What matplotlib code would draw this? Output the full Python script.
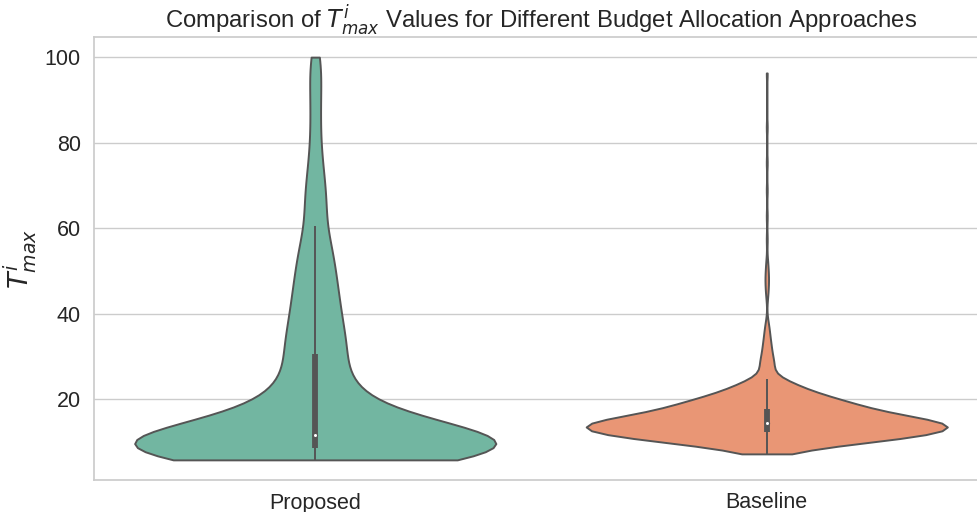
import matplotlib
matplotlib.use("Agg")
import matplotlib.pyplot as plt
from matplotlib import cbook
import numpy as np
import pandas as pd
import seaborn as sns

# Approaches compared on the x axis
approaches = ["Proposed", "Baseline"]

# T^i_max observations for the proposed allocation: value -> number of users
proposed_values = [
    5.8, 6.25, 6.75, 7.25, 7.75, 8.25, 8.6, 9.25, 9.75, 10.25, 10.75, 11.25, 11.6,
    12.5, 13.5, 14.5, 15.5, 16.5, 17.5, 18.5, 19.5, 20.5, 21.5, 22.5, 23.5, 24.5,
    25.5, 26.5, 27.5, 28.5, 29.5, 30.3,
    31, 32, 33, 34, 35, 36, 37, 38, 39, 40,
    41, 42, 43, 44, 45, 46, 47, 48, 49, 50,
    51, 52, 53, 54, 55, 56, 57, 58, 59, 60.4,
    63.5, 65, 67, 69, 71, 73, 75, 77, 79, 81, 84, 87, 90, 93, 96, 98, 100,
]
proposed_counts = [
    20, 25, 40, 50, 50, 50, 55, 40, 35, 40, 40, 35, 25,
    25, 25, 20, 20, 20, 15, 15, 15, 10, 10, 10, 10, 10,
    5, 10, 5, 5, 10, 5,
    9, 9, 9, 7, 7, 7, 7, 7, 7, 7,
    6, 6, 6, 6, 6, 6, 6, 5, 5, 5,
    5, 5, 5, 5, 4, 4, 4, 4, 4, 4,
    6, 6, 6, 5, 5, 4, 4, 3, 3, 3, 4, 4, 4, 4, 4, 3, 5,
]

# T^i_max observations for the baseline allocation: value -> number of users
baseline_values = [
    7.2, 7.75, 8.25, 8.75, 9.25, 9.75, 10.25, 10.75, 11.25, 11.75,
    12.25, 12.75, 13.25, 13.75, 14.4, 14.75, 15.25, 15.75, 16.25, 16.75,
    17.25, 17.75, 18.25, 18.75, 19.25, 19.75, 20.25, 20.75, 21.25, 21.75,
    22.25, 22.75, 23.25, 23.75, 24.25, 24.8,
    26.6, 26.8, 27.0, 27.2, 27.3, 27.5, 27.7, 27.9,
    28.1, 28.3, 28.6, 28.8, 29.1, 29.4, 29.7, 30.0, 30.3,
    30.7, 31.0, 31.4, 31.8, 32.2, 32.6, 33.0, 33.4,
    33.9, 34.5, 35.1, 35.7, 36.4, 37.2, 38.1,
    43.9, 45.4, 46.6, 47.6, 48.5, 49.5, 50.8, 52.4,
    57.4, 62.8, 68.9, 75.3, 83.6, 96.3,
]
baseline_counts = [
    5, 5, 10, 15, 15, 25, 30, 35, 50, 50,
    50, 50, 50, 55, 62, 48, 45, 35, 30, 35,
    25, 35, 20, 25, 25, 20, 20, 15, 15, 10,
    10, 10, 10, 5, 10, 5,
    1, 1, 1, 1, 1, 1, 1, 1,
    1, 1, 1, 1, 1, 1, 1, 1, 1,
    1, 1, 1, 1, 1, 1, 1, 1,
    1, 1, 1, 1, 1, 1, 1,
    1, 1, 1, 1, 1, 1, 1, 1,
    1, 1, 1, 1, 1, 1,
]

sns.set_theme(style="whitegrid")
plt.rcParams["font.family"] = ["Liberation Sans", "DejaVu Sans"]
plt.rcParams["mathtext.fontset"] = "dejavusans"

series = {
    approaches[0]: np.repeat(proposed_values, proposed_counts),
    approaches[1]: np.repeat(baseline_values, baseline_counts),
}
df = pd.DataFrame({
    "Approach": np.concatenate([[name] * len(obs) for name, obs in series.items()]),
    "Tmax": np.concatenate(list(series.values())),
})

line_gray = "#555555"

fig = plt.figure(figsize=(9.77, 5.12), dpi=100)
ax = fig.add_axes([94 / 977, 32 / 512, (988 - 94) / 977, 443 / 512])

violin_kws = dict(data=df, x="Approach", y="Tmax", order=approaches, cut=0,
                  inner=None, bw_adjust=0.91, linewidth=1.4, ax=ax)
major, minor = (int(v) for v in sns.__version__.split(".")[:2])
if (major, minor) >= (0, 13):
    sns.violinplot(hue="Approach", hue_order=approaches, palette="Set2",
                   density_norm="width", linecolor=line_gray, legend=False,
                   **violin_kws)
else:
    sns.violinplot(palette="Set2", scale="width", **violin_kws)

# Inner box: whiskers, interquartile bar and median dot for each approach
for pos, name in enumerate(approaches):
    st = cbook.boxplot_stats(series[name], whis=1.5)[0]
    ax.plot([pos, pos], [st["whislo"], st["whishi"]], color=line_gray,
            lw=1.4, solid_capstyle="butt", zorder=3)
    ax.plot([pos, pos], [st["q1"], st["q3"]], color=line_gray,
            lw=4.2, solid_capstyle="butt", zorder=3)
    ax.scatter([pos], [st["med"]], s=9, color="white", edgecolor=line_gray,
               linewidth=0.8, zorder=4)

ax.set_title(r"Comparison of $T^i_{max}$ Values for Different Budget Allocation Approaches",
             fontsize=17.2)
ax.set_xlabel("")
ax.set_ylabel(r"$T^i_{max}$", fontsize=19.5)
ax.tick_params(axis="both", labelsize=15.5)
ax.tick_params(axis="x", pad=3)

fig.savefig("out.png", dpi=100)
